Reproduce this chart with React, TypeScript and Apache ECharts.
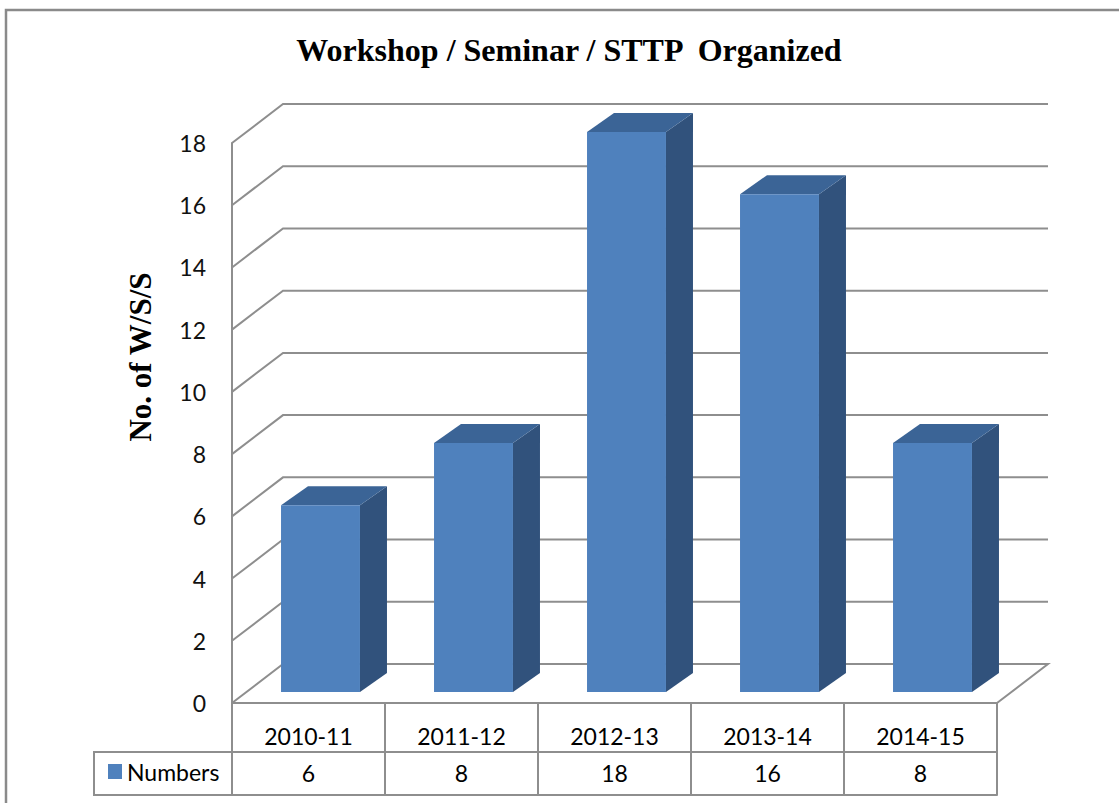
import React, { useEffect, useRef } from "react";
import * as echarts from "echarts";

const categories = ["2010-11", "2011-12", "2012-13", "2013-14", "2014-15"];
const values = [6, 8, 18, 16, 8];
const yTicks = [0, 2, 4, 6, 8, 10, 12, 14, 16, 18];
const seriesName = "Numbers";
const titleText = "Workshop / Seminar / STTP  Organized";
const yName = "No. of W/S/S";

const GRID_COLOR = "#8e8e8e";
const FRONT = "#4f81bd";
const TOP = "#3b6496";
const SIDE = "#31527c";
const DEPTH_X = 51;
const DEPTH_Y = -39;
const BAR_OFF_X = 12;
const BAR_OFF_Y = -11;
const BAR_DX = 27;
const BAR_DY = -19;

export default function App() {
  const ref = useRef<HTMLDivElement>(null);

  useEffect(() => {
    document.body.style.margin = "0";
    document.body.style.overflow = "hidden";
    const chart = echarts.init(ref.current!, null, { renderer: "svg" });

    const option: any = {
      animation: false,
      backgroundColor: "#ffffff",
      title: {
        text: titleText,
        left: 564,
        textAlign: "center",
        top: 29,
        textStyle: {
          fontFamily: "Liberation Serif",
          fontWeight: "bold",
          fontSize: 32,
          color: "#000",
        },
      },
      legend: {
        data: [seriesName],
        left: 103,
        top: 755,
        itemWidth: 14,
        itemHeight: 15,
        icon: "rect",
        selectedMode: false,
        textStyle: { fontFamily: "Lato", fontSize: 23, color: "#000" },
      },
      grid: {
        left: 232,
        right: 122,
        top: 143,
        bottom: 100,
        outerBoundsMode: "none",
      },
      xAxis: [
        {
          type: "category",
          data: categories,
          position: "bottom",
          axisLine: { show: true, lineStyle: { color: GRID_COLOR, width: 2 } },
          axisTick: {
            show: true,
            alignWithLabel: false,
            inside: false,
            length: 92,
            lineStyle: { color: GRID_COLOR, width: 2 },
          },
          axisLabel: {
            margin: 33,
            verticalAlign: "middle",
            fontFamily: "Lato",
            fontSize: 23,
            color: "#000",
          },
          splitLine: { show: false },
        },
        {
          type: "category",
          data: values.map((v) => String(v)),
          position: "bottom",
          offset: 49,
          axisLine: { show: true, lineStyle: { color: GRID_COLOR, width: 2 } },
          axisTick: { show: false },
          axisLabel: {
            margin: 21,
            verticalAlign: "middle",
            fontFamily: "Lato",
            fontSize: 23,
            color: "#000",
          },
          splitLine: { show: false },
        },
        {
          type: "category",
          data: categories,
          position: "bottom",
          offset: 92,
          axisLine: { show: true, lineStyle: { color: GRID_COLOR, width: 2 } },
          axisTick: { show: false },
          axisLabel: { show: false },
          splitLine: { show: false },
        },
      ],
      yAxis: {
        type: "value",
        min: 0,
        max: 18,
        interval: 2,
        axisLine: { show: true, lineStyle: { color: GRID_COLOR, width: 2 } },
        axisTick: { show: false },
        splitLine: { show: false },
        axisLabel: {
          margin: 26,
          fontFamily: "Lato",
          fontSize: 23,
          color: "#111",
        },
      },
      graphic: [
        {
          type: "rect",
          shape: { x: 6, y: 10, width: 1300, height: 1000 },
          style: { fill: "none", stroke: "#8a8a8a", lineWidth: 2.5 },
          silent: true,
          z: -10,
        },
        {
          type: "rect",
          shape: { x: 94, y: 752, width: 138, height: 43 },
          style: { fill: "none", stroke: GRID_COLOR, lineWidth: 2 },
          silent: true,
        },
        {
          type: "text",
          x: 140,
          y: 357,
          rotation: Math.PI / 2,
          style: {
            text: yName,
            fontFamily: "Liberation Serif",
            fontWeight: "bold",
            fontSize: 31,
            fill: "#000",
            align: "center",
            verticalAlign: "middle",
          },
        },
      ],
      series: [
        {
          type: "custom",
          name: "walls",
          silent: true,
          z: 1,
          data: yTicks.map((t) => [0, t]),
          renderItem: (params: any, api: any) => {
            const cs = params.coordSys;
            const y = api.coord([0, api.value(1)])[1];
            const xl = cs.x;
            const xr = cs.x + cs.width;
            const pts =
              api.value(1) === 0
                ? [
                    [xl, y],
                    [xl + DEPTH_X, y + DEPTH_Y],
                    [xr + DEPTH_X, y + DEPTH_Y],
                    [xr, y],
                  ]
                : [
                    [xl, y],
                    [xl + DEPTH_X, y + DEPTH_Y],
                    [xr + DEPTH_X, y + DEPTH_Y],
                  ];
            return {
              type: "polyline",
              shape: { points: pts },
              style: { stroke: GRID_COLOR, lineWidth: 2, fill: "none" },
            };
          },
        },
        {
          type: "custom",
          name: seriesName,
          z: 2,
          itemStyle: { color: FRONT },
          data: values.map((v, i) => [i, v]),
          renderItem: (params: any, api: any) => {
            const idx = api.value(0);
            const val = api.value(1);
            const topPt = api.coord([idx, val]);
            const botPt = api.coord([idx, 0]);
            const bw = api.size([1, 0])[0] * 0.516;
            const x = topPt[0] - bw / 2 + BAR_OFF_X;
            const ty = topPt[1] + BAR_OFF_Y;
            const by = botPt[1] + BAR_OFF_Y;
            return {
              type: "group",
              children: [
                {
                  type: "polygon",
                  shape: {
                    points: [
                      [x + bw, ty],
                      [x + bw + BAR_DX, ty + BAR_DY],
                      [x + bw + BAR_DX, by + BAR_DY],
                      [x + bw, by],
                    ],
                  },
                  style: { fill: SIDE },
                },
                {
                  type: "polygon",
                  shape: {
                    points: [
                      [x, ty],
                      [x + BAR_DX, ty + BAR_DY],
                      [x + bw + BAR_DX, ty + BAR_DY],
                      [x + bw, ty],
                    ],
                  },
                  style: { fill: TOP },
                },
                {
                  type: "rect",
                  shape: { x, y: ty, width: bw, height: by - ty },
                  style: { fill: FRONT },
                },
              ],
            };
          },
        },
      ],
    };

    chart.setOption(option);
    return () => chart.dispose();
  }, []);

  return <div ref={ref} style={{ width: 1119, height: 803 }} />;
}
